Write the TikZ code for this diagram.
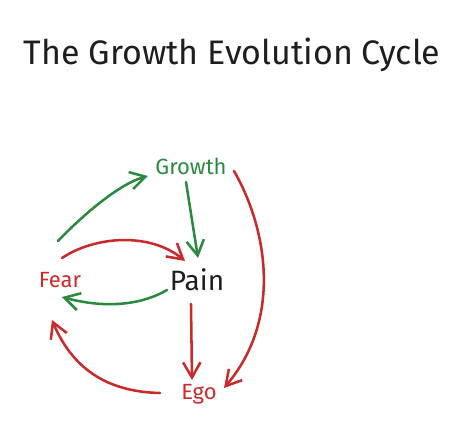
\documentclass[tikz,border=0pt]{standalone}
\usepackage{fontspec}
\setmainfont{Fira Sans}
\usepackage{tikz}
\usepackage{xcolor}
\usetikzlibrary{arrows.meta,positioning,calc}
\definecolor{ink}     {HTML}{1E1E1E}
\definecolor{grow}    {HTML}{2B8A3E}
\definecolor{hurt}    {HTML}{C92A2A}
\tikzset{
  word/.style     ={inner sep=2pt, font=\fontsize{16.5}{19}\selectfont},
  gword/.style    ={word, text=grow},
  rword/.style    ={word, text=hurt},
  kword/.style    ={word, text=ink, font=\fontsize{21}{25}\selectfont},
  arr/.style      ={-{Straight Barb[length=4mm,width=4.6mm,line width=1.9pt]},
                    line width=1.9pt, line cap=round},
  garr/.style     ={arr, color=grow},
  rarr/.style     ={arr, color=hurt},
}
\begin{document}
\begin{tikzpicture}[x=0.75pt,y=-0.75pt]
  \useasboundingbox (0,0) rectangle (461,439);
  \node[text=ink,font=\fontsize{25.5}{30}\selectfont] (title) at (232,55) {The Growth Evolution Cycle};

  \node[gword] (growth) at (191,166) {Growth};
  \node[kword] (pain)   at (197,280) {Pain};
  \node[rword] (fear)   at (60,280)  {Fear};
  \node[rword] (ego)    at (199,394) {Ego};

  \draw[garr] ([shift={(-2,-39)}]fear.center) .. controls (80,218) and (118,184) .. ([shift={(-43,10)}]growth.center);
  \draw[rarr] ([shift={(2,-22)}]fear.center) .. controls (95,236) and (150,232) .. ([shift={(-12,-19)}]pain.center);
  \draw[garr] ([shift={(-5,16)}]growth.center) -- ([shift={(1,-22)}]pain.center);
  \draw[garr] ([shift={(-30,10)}]pain.center) .. controls (145,303) and (110,310) .. ([shift={(2,17)}]fear.center);
  \draw[rarr] ([shift={(-6,24)}]pain.center) -- ([shift={(-7,-14)}]ego.center);
  \draw[rarr] ([shift={(43,5)}]growth.center) .. controls (268,230) and (282,320) .. ([shift={(25,-6)}]ego.center);
  \draw[rarr] ([shift={(-39,-1)}]ego.center) .. controls (115,392) and (75,375) .. ([shift={(-8,40)}]fear.center);
\end{tikzpicture}
\end{document}
